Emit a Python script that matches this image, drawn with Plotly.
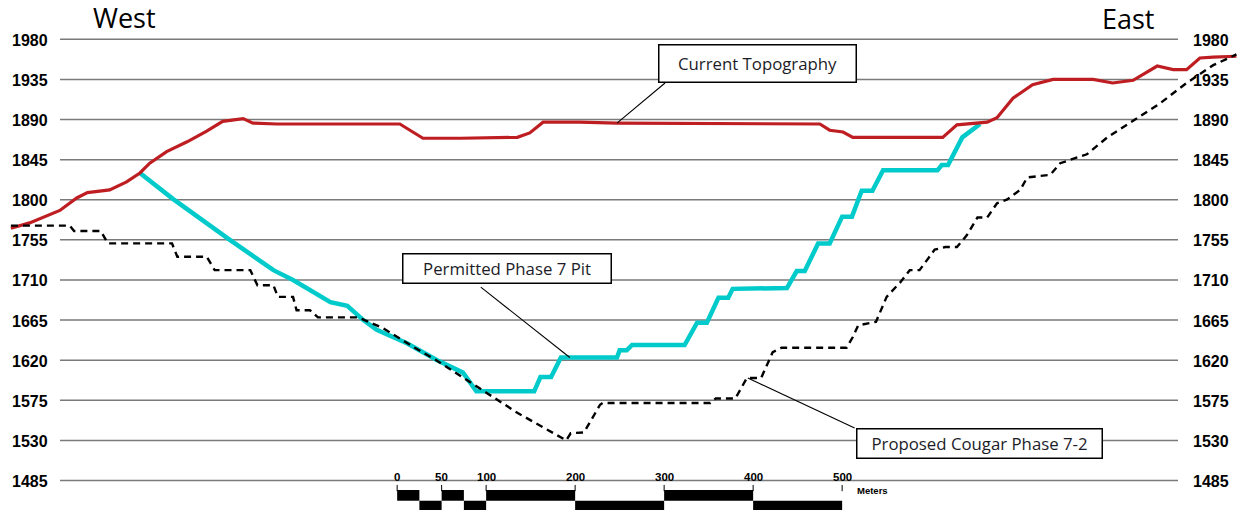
import numpy as np
import plotly.graph_objects as go

# ---------------- data (distance from west end in m, elevation in m) ----------------
topo_x = [1, 22, 56, 75, 87, 112, 131, 146, 157, 176, 199, 221, 239, 262, 273, 300, 438, 449, 464, 506,
          570, 584, 599, 640, 682, 910, 921, 936, 947, 1048, 1064, 1098, 1109, 1127, 1149, 1172, 1217, 1239,
          1262, 1289, 1307, 1322, 1337, 1352, 1378]
topo_y = [1768, 1774, 1788, 1802, 1808, 1811, 1820, 1830, 1841, 1854, 1865, 1877, 1888, 1891, 1886, 1885,
          1885, 1878, 1869, 1869, 1870, 1875, 1887, 1887, 1886, 1885, 1878, 1876, 1870, 1870, 1884, 1887,
          1892, 1914, 1929, 1935, 1935, 1931, 1934, 1950, 1946, 1946, 1959, 1960, 1961]

pit_x = [146, 183, 247, 296, 318, 345, 360, 379, 397, 412, 446, 480, 509, 524, 589, 596, 608, 619, 682, 685,
         693, 699, 758, 772, 783, 796, 807, 812, 873, 884, 893, 908, 921, 935, 946, 957, 969, 981, 1042,
         1047, 1054, 1070, 1087, 1090]
pit_y = [1830, 1801, 1755, 1721, 1710, 1693, 1685, 1681, 1665, 1654, 1639, 1620, 1606, 1585, 1585, 1601,
         1601, 1623, 1623, 1631, 1631, 1637, 1637, 1662, 1662, 1690, 1690, 1700, 1701, 1720, 1720, 1751,
         1751, 1781, 1781, 1810, 1810, 1833, 1833, 1839, 1839, 1870, 1882, 1885]

cougar_x = [1, 67, 72, 102, 110, 182, 188, 221, 230, 270, 278, 296, 301, 318, 322, 337, 346, 391, 419, 453,
            479, 509, 536, 570, 625, 630, 645, 663, 666, 787, 793, 815, 828, 844, 857, 867, 940, 947, 953,
            973, 985, 1000, 1011, 1022, 1039, 1051, 1064, 1075, 1087, 1098, 1109, 1120, 1135, 1143, 1169,
            1180, 1210, 1233, 1262, 1292, 1322, 1352, 1378]
cougar_y = [1771, 1771, 1765, 1765, 1751, 1751, 1736, 1736, 1721, 1721, 1704, 1704, 1691, 1691, 1676, 1676,
            1668, 1668, 1656, 1635, 1620, 1600, 1583, 1561, 1530, 1538, 1539, 1570, 1572, 1572, 1577, 1577,
            1600, 1600, 1629, 1634, 1634, 1646, 1659, 1663, 1691, 1707, 1721, 1721, 1744, 1747, 1747, 1760,
            1780, 1780, 1796, 1800, 1811, 1825, 1828, 1841, 1851, 1870, 1889, 1908, 1931, 1951, 1963]

y_ticks = [1485, 1530, 1575, 1620, 1665, 1710, 1755, 1800, 1845, 1890, 1935, 1980]
y_tick_labels = [str(v) for v in y_ticks]

scale_origin = 435                       # where the scale bar's 0 sits along the section
scale_ticks = [0, 50, 100, 200, 300, 400, 500]
scale_labels = ["0", "50", "100", "200", "300", "400", "500"]
scale_blocks = [(0, 25, "top"), (25, 50, "bot"), (50, 75, "top"), (75, 100, "bot"),
                (100, 200, "top"), (200, 300, "bot"), (300, 400, "top"), (400, 500, "bot")]

callouts = [
    # text, box centre x, box centre y, box w, box h, leader start (x,y), leader target x, series
    ("Current Topography", 840, 1952.8, 196, 36, (736, 1931), 682, "topo"),
    ("Permitted Phase 7 Pit", 558.4, 1722.8, 207, 28, (529, 1702), 629, "pit"),
    ("Proposed Cougar Phase 7-2", 1089.3, 1526.5, 244, 28, (949, 1544), 829, "cougar"),
]

# ---------------- figure ----------------
W, H = 1238, 514
x_range = [-11.24, 1379.8]
y_range = [1447.4, 2024.1]
grid_x0, grid_x1 = 56.2, 1312.4

RED = "#BE1E22"
CYAN = "#00CACA"

fig = go.Figure()
fig.add_trace(go.Scatter(x=pit_x, y=pit_y, mode="lines", name="Permitted Phase 7 Pit",
                         line=dict(color=CYAN, width=4.5), hoverinfo="skip"))
fig.add_trace(go.Scatter(x=topo_x, y=topo_y, mode="lines", name="Current Topography",
                         line=dict(color=RED, width=3.2), hoverinfo="skip"))
fig.add_trace(go.Scatter(x=cougar_x, y=cougar_y, mode="lines", name="Proposed Cougar Phase 7-2",
                         line=dict(color="#000000", width=2.4, dash="7px,5px"), hoverinfo="skip"))

shapes = []
annotations = []
tick_font = dict(family="Liberation Sans", size=16, color="#000000", weight="bold")
for v, lab in zip(y_ticks, y_tick_labels):
    shapes.append(dict(type="line", xref="x", yref="y", x0=grid_x0, x1=grid_x1, y0=v, y1=v,
                       line=dict(color="#7a7a7a", width=1.5), layer="below"))
    annotations.append(dict(text=lab, xref="paper", yref="y", x=10 / W, y=v, xanchor="left",
                            yanchor="middle", showarrow=False, font=tick_font, yshift=-1))
    annotations.append(dict(text=lab, xref="paper", yref="y", x=1191 / W, y=v, xanchor="left",
                            yanchor="middle", showarrow=False, font=tick_font, yshift=-1))

annotations.append(dict(text="West", xref="paper", yref="paper", x=124 / W, y=1 - 18 / H,
                        xanchor="center", yanchor="middle", showarrow=False,
                        font=dict(family="Open Sans", size=27, color="#000000")))
annotations.append(dict(text="East", xref="paper", yref="paper", x=1128 / W, y=1 - 19 / H,
                        xanchor="center", yanchor="middle", showarrow=False,
                        font=dict(family="Open Sans", size=27, color="#000000")))

series = {"topo": (topo_x, topo_y), "pit": (pit_x, pit_y), "cougar": (cougar_x, cougar_y)}
for text, cx, cy, bw, bh, (lx, ly), tx, key in callouts:
    sx, sy = series[key]
    ty = float(np.interp(tx, sx, sy))
    shapes.append(dict(type="line", xref="x", yref="y", x0=lx, y0=ly, x1=tx, y1=ty,
                       line=dict(color="#000000", width=1.1), layer="above"))
    annotations.append(dict(text=text, xref="x", yref="y", x=cx, y=cy, xanchor="center",
                            yanchor="middle", showarrow=False, width=bw, height=bh,
                            bgcolor="#ffffff", bordercolor="#000000", borderwidth=1.5, borderpad=0,
                            align="center", valign="middle",
                            font=dict(family="Open Sans", size=16.8, color="#1c1c28")))

# scale bar (rows in data elevation units)
row_top = (1474.3, 1462.3)
row_bot = (1462.3, 1451.9)
for a, b, row in scale_blocks:
    y0, y1 = row_top if row == "top" else row_bot
    shapes.append(dict(type="rect", xref="x", yref="y", x0=scale_origin + a, x1=scale_origin + b,
                       y0=y1, y1=y0, fillcolor="#000000", line=dict(width=0), layer="above"))
for t, lab in zip(scale_ticks, scale_labels):
    shapes.append(dict(type="line", xref="x", yref="y", x0=scale_origin + t, x1=scale_origin + t,
                       y0=1480, y1=1473, line=dict(color="#000000", width=1), layer="above"))
    annotations.append(dict(text=lab, xref="x", yref="y", x=scale_origin + t, y=1489,
                            xanchor="center", yanchor="middle", showarrow=False,
                            font=dict(family="Liberation Sans", size=11.5, color="#000000", weight="bold")))
annotations.append(dict(text="Meters", xref="x", yref="y", x=scale_origin + 515, y=1474,
                        xanchor="left", yanchor="middle", showarrow=False,
                        font=dict(family="Liberation Sans", size=9.5, color="#000000", weight="bold")))

fig.update_layout(
    width=W, height=H,
    margin=dict(l=0, r=0, t=0, b=0, pad=0),
    paper_bgcolor="#ffffff", plot_bgcolor="#ffffff",
    showlegend=False,
    xaxis=dict(range=x_range, visible=False, fixedrange=True),
    yaxis=dict(range=y_range, visible=False, fixedrange=True),
    shapes=shapes, annotations=annotations,
)

fig.write_html("out.html", config={"displayModeBar": False},
               post_script="document.body.style.margin='0px';document.body.style.overflow='hidden';")
